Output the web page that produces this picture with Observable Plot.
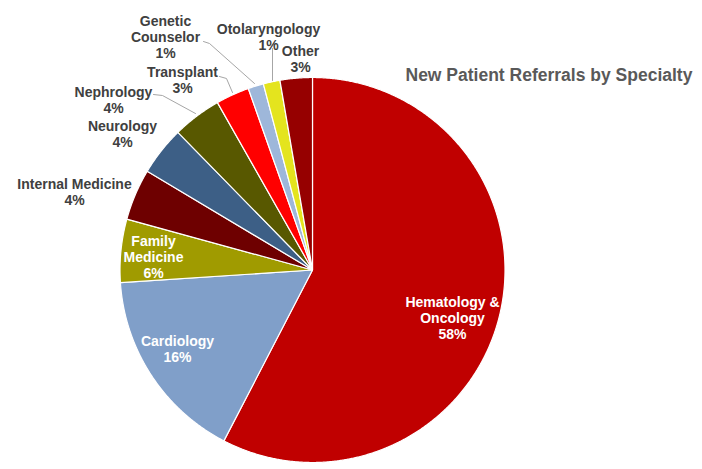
<!DOCTYPE html>
<html><head><meta charset="utf-8">
<script src="https://cdn.jsdelivr.net/npm/d3@7"></script>
<script src="https://cdn.jsdelivr.net/npm/@observablehq/plot@0.6"></script>
<style>body{margin:0;background:#fff;} #chart svg{display:block;}</style>
</head><body><div id="chart"></div>
<script>
// ---- data ----
const specialties = ["Hematology & Oncology","Cardiology","Family Medicine","Internal Medicine","Neurology","Nephrology","Transplant","Genetic Counselor","Otolaryngology","Other"];
const shares = [57.5, 16.3, 5.3, 4.3, 4.1, 4.1, 2.8, 1.3, 1.4, 2.7];
const percentLabels = ["58%","16%","6%","4%","4%","4%","3%","1%","1%","3%"];
const nameLines = ["Hematology &\nOncology","Cardiology","Family\nMedicine","Internal Medicine","Neurology","Nephrology","Transplant","Genetic\nCounselor","Otolaryngology","Other"];
const sliceColors = ["#C00000","#809FC9","#A09B00","#6E0000","#3D5F86","#585800","#FF0000","#9EB7DA","#E4E41E","#960000"];
const title = "New Patient Referrals by Specialty";

// ---- layout (pixels) ----
const W = 702, H = 469, CX = 312, CY = 269.5, R = 192.5;
const toU = ([px, py]) => [(px - CX) / R, (py - CY) / R];
const labelPx = [[452,317],[177,348],[153,256],[74,191.5],[122,133],[113,99.5],[182,79.5],[165,36.5],[268,36.5],[300,58.5]];
const labelInside = [true,true,true,false,false,false,false,false,false,false];
const leaderPx = [
  ["Nephrology", [[153,94],[162,95],[195,113]]],
  ["Transplant", [[219,76],[226,78],[232,92]]],
  ["Genetic Counselor", [[203,41],[209,43],[254,83]]],
  ["Otolaryngology", [[272,48],[272,80]]]
];
const titlePx = [405, 75];

// ---- build slices ----
const arcs = d3.pie().sort(null).value(d => d)(shares);
const slices = arcs.map((a, i) => {
  const n = Math.max(4, Math.ceil((a.endAngle - a.startAngle) / 0.005));
  const ring = [[0, 0]];
  for (let k = 0; k <= n; k++) {
    const t = a.startAngle + (a.endAngle - a.startAngle) * k / n;
    ring.push([Math.sin(t), -Math.cos(t)]);
  }
  ring.push([0, 0]);
  return {type: "Feature", properties: {name: specialties[i]}, geometry: {type: "Polygon", coordinates: [ring]}};
});

const labels = specialties.map((s, i) => {
  const [x, y] = toU(labelPx[i]);
  return {name: s, x, y, text: nameLines[i] + "\n" + percentLabels[i], inside: labelInside[i]};
});
const leaders = leaderPx.flatMap(([name, pts]) => pts.map(p => { const [x, y] = toU(p); return {name, x, y}; }));
const [tx, ty] = toU(titlePx);

const font = "'Liberation Sans', Arial, Helvetica, sans-serif";
const chart = Plot.plot({
  width: W, height: H,
  marginLeft: CX - R, marginRight: W - (CX + R), marginTop: CY - R, marginBottom: H - (CY + R),
  projection: {type: "identity", domain: {type: "MultiPoint", coordinates: [[-1, -1], [1, 1]]}, clip: false},
  color: {domain: specialties, range: sliceColors},
  style: {background: "#fff", fontFamily: font, overflow: "visible"},
  marks: [
    Plot.geo(slices, {fill: d => d.properties.name, stroke: "#fff", strokeWidth: 1.2}),
    Plot.line(leaders, {x: "x", y: "y", z: "name", stroke: "#a6a6a6", strokeWidth: 1}),
    Plot.text(labels, {x: "x", y: "y", text: "text", fill: d => d.inside ? "#ffffff" : "#404040",
      fontSize: 14, fontWeight: "bold", lineHeight: 1.15, textAnchor: "middle", fontFamily: font}),
    Plot.text([title], {x: () => tx, y: () => ty, text: d => d, textAnchor: "start", fontSize: 17.5,
      fontWeight: "bold", fill: "#595959", fontFamily: font})
  ]
});
// text fill: use literal colors
document.getElementById("chart").appendChild(chart);
</script>
</body></html>
